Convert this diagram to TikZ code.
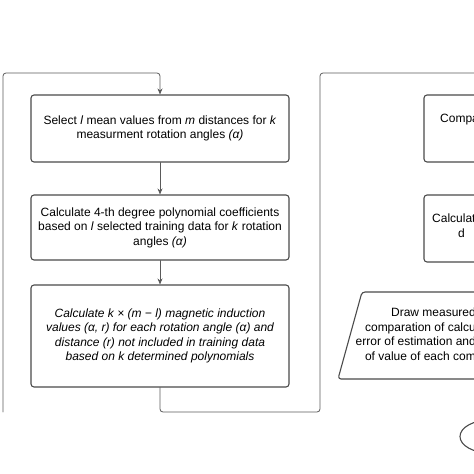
\documentclass[tikz,border=0pt]{standalone}
\usepackage{fontspec}
\setmainfont{Liberation Sans}
\usetikzlibrary{arrows.meta}
\definecolor{boxgray}{HTML}{4A4A4A}
\definecolor{linegray}{HTML}{5A5A5A}
\tikzset{
  stepbox/.style={draw=boxgray, line width=1.1pt, rounded corners=3pt, minimum width=258pt, align=center, inner sep=0pt},
  link/.style={draw=linegray, line width=0.8pt, rounded corners=3pt},
  txt/.style={inner sep=0pt, align=center},
}
\begin{document}
\begin{tikzpicture}[x=1pt, y=-1pt, font=\fontsize{12}{14.5}\selectfont, line join=round, line cap=round, >={Stealth[length=6pt,width=5pt]}]
    \useasboundingbox (0,0) rectangle (474,474);
    \clip (0,0) rectangle (474,474);
    \path
    (3,412) coordinate (L)
    (3,73) coordinate (LT)
    (320,412) coordinate (R)
    (480,73) coordinate (RT);
    % left column
    \node[stepbox, minimum height=67pt] (sel) at (160,128.5)
      {Select \textit{l} mean values from \textit{m} distances for \textit{k}\\ measurment rotation angles \textit{(α)}};
    \node[stepbox, minimum height=65pt] (poly) at (160,227.5)
      {Calculate 4-th degree polynomial coefficients\\ based on \textit{l} selected training data for \textit{k} rotation\\ angles \textit{(α)}};
    \node[stepbox, minimum height=102pt, font=\fontsize{12}{14.5}\selectfont\itshape] (ind) at (160,336)
      {Calculate k × (m − l) magnetic induction\\ values (α, r) for each rotation angle (α) and\\ distance (r) not included in training data\\ based on k determined polynomials};
    \draw[link,->] (L) |- (sel.north |- LT) -- (sel.north);
    \draw[link,->] (sel) -- (poly);
    \draw[link,->] (poly) -- (ind);
    \draw[link] (ind.south) -- (ind.south |- R) -- (R) |- (RT);
    % right column
    \draw[stepbox] (424,95) rectangle (560,162);
    \node[txt, anchor=west] (cmp) at (440,120) {Compa};
    \draw[stepbox] (424,195) rectangle (560,262);
    \node[txt, anchor=west] (cal) at (432,218) {Calculate};
    \node[txt, anchor=west] (cald) at (458,233) {d};
    \draw[stepbox] (362,292) -- (560,292) -- (536,379) -- (338,379) -- cycle;
    \node[txt, anchor=east, align=right] (drw) at (476,334)
      {Draw measured\\ comparation of calcu\\ error of estimation and\\ of value of each com};
    \draw[boxgray, line width=1.1pt] (490,436.5) ellipse (30pt and 16.5pt);
\end{tikzpicture}
\end{document}
